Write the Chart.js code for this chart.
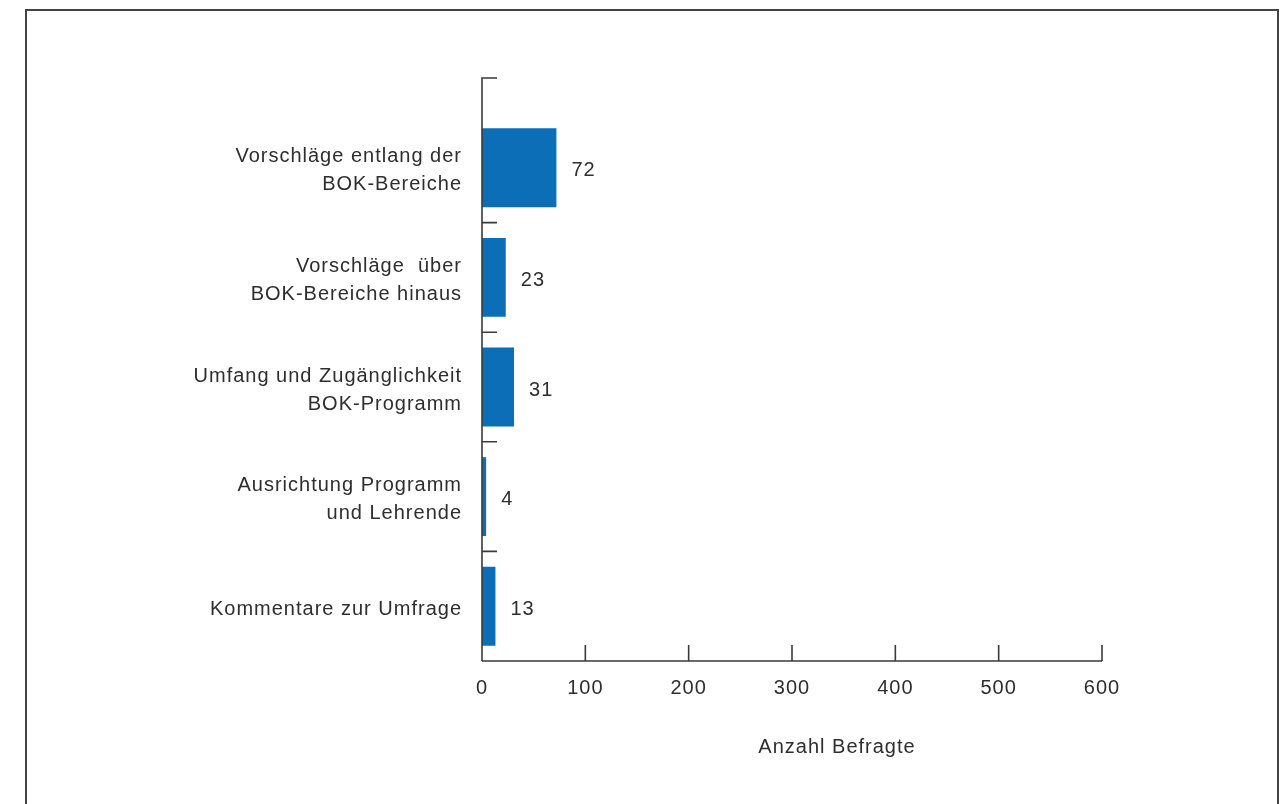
<!DOCTYPE html>
<html>
<head>
<meta charset="utf-8">
<script src="https://cdn.jsdelivr.net/npm/chart.js@4"></script>
<style>
  html, body { margin: 0; padding: 0; background: #fff; overflow: hidden; }
  #frame { position: absolute; left: 25px; top: 9px; width: 1250px; height: 840px; border: 2px solid #444; }
  #chart { position: absolute; left: 0; top: 0; }
</style>
</head>
<body>
<div id="frame"></div>
<canvas id="chart" width="1284" height="804"></canvas>
<script>
// categories (multi-line labels) and counts
const categories = [
  ['Vorschläge entlang der', 'BOK-Bereiche'],
  ['Vorschläge  über', 'BOK-Bereiche hinaus'],
  ['Umfang und Zugänglichkeit', 'BOK-Programm'],
  ['Ausrichtung Programm', 'und Lehrende'],
  ['Kommentare zur Umfrage']
];
const counts = [72, 23, 31, 4, 13];
const xTicks = [0, 100, 200, 300, 400, 500, 600];
const xTitle = 'Anzahl Befragte';

const textColor = '#2e2e2e';
const axisColor = '#3a3a3a';
const fontFamily = 'Arial, "Liberation Sans", Helvetica, sans-serif';
const spacing = '1px';

// canvas letter spacing + custom axis decorations
const decor = {
  id: 'decor',
  beforeLayout(chart) { chart.ctx.letterSpacing = spacing; },
  beforeDraw(chart) { chart.ctx.letterSpacing = spacing; },
  afterDraw(chart) {
    const ctx = chart.ctx;
    const area = chart.chartArea;
    const x = chart.scales.x, y = chart.scales.y;
    const topY = area.top - 35;
    ctx.save();
    ctx.strokeStyle = axisColor;
    ctx.lineWidth = 1.6;
    ctx.beginPath();
    // y axis line, extended above first category
    ctx.moveTo(area.left, area.bottom);
    ctx.lineTo(area.left, topY);
    ctx.lineTo(area.left + 15, topY);
    // x axis line
    ctx.moveTo(area.left, area.bottom);
    ctx.lineTo(area.right, area.bottom);
    // x ticks pointing up
    xTicks.forEach(v => {
      if (v === 0) return;
      const px = x.getPixelForValue(v);
      ctx.moveTo(px, area.bottom);
      ctx.lineTo(px, area.bottom - 16);
    });
    // y ticks between categories, pointing right
    for (let i = 0; i < counts.length - 1; i++) {
      const py = (y.getPixelForValue(i) + y.getPixelForValue(i + 1)) / 2;
      ctx.moveTo(area.left, py);
      ctx.lineTo(area.left + 15, py);
    }
    ctx.stroke();

    // value labels
    ctx.letterSpacing = spacing;
    ctx.fillStyle = textColor;
    ctx.font = '20px ' + fontFamily;
    ctx.textAlign = 'left';
    ctx.textBaseline = 'middle';
    const meta = chart.getDatasetMeta(0);
    meta.data.forEach((bar, i) => {
      ctx.fillText(String(counts[i]), bar.x + 15, bar.y + 3);
    });

    // x axis title
    ctx.textAlign = 'center';
    ctx.fillText(xTitle, (area.left + area.right) / 2 + 45, area.bottom + 86);
    ctx.restore();
  }
};

new Chart(document.getElementById('chart'), {
  type: 'bar',
  data: {
    labels: categories,
    datasets: [{
      data: counts,
      backgroundColor: '#0b6eb6',
      borderWidth: 0,
      barPercentage: 0.72,
      categoryPercentage: 1.0
    }]
  },
  options: {
    indexAxis: 'y',
    responsive: false,
    animation: false,
    events: [],
    layout: { padding: { top: 113, right: 182, bottom: 83, left: 0 } },
    plugins: { legend: { display: false }, tooltip: { enabled: false } },
    scales: {
      x: {
        type: 'linear',
        min: 0,
        max: 600,
        afterBuildTicks: s => { s.ticks = xTicks.map(v => ({ value: v })); },
        afterFit: s => { s.height = 60; },
        grid: { display: false, drawTicks: false },
        border: { display: false },
        ticks: {
          color: textColor,
          padding: 15,
          maxRotation: 0,
          font: { size: 20, family: fontFamily }
        }
      },
      y: {
        afterFit: s => { s.width = 482; },
        grid: { display: false, drawTicks: false },
        border: { display: false },
        ticks: {
          color: textColor,
          padding: 20,
          labelOffset: 3,
          font: { size: 20, family: fontFamily, lineHeight: 1.4 }
        }
      }
    }
  },
  plugins: [decor]
});
</script>
</body>
</html>
